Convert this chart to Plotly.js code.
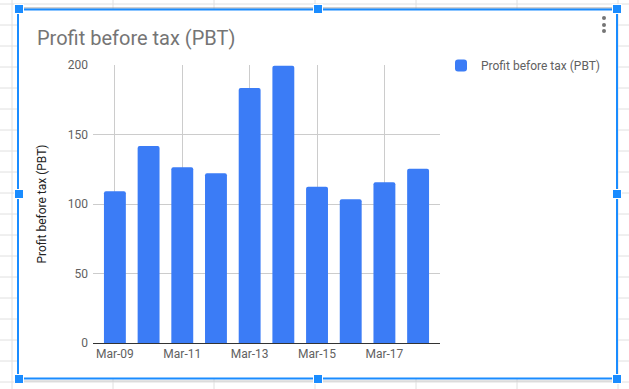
<!DOCTYPE html>
<html>
<head>
<meta charset="utf-8">
<script src="https://cdn.plot.ly/plotly-3.0.1.min.js"></script>
<style>html,body{margin:0;padding:0;background:#fff;}#chart{width:629px;height:389px;}</style>
</head>
<body>
<div id="chart"></div>
<script>
// ---- data ----
var categories = ["Mar-09","Mar-10","Mar-11","Mar-12","Mar-13","Mar-14","Mar-15","Mar-16","Mar-17","Mar-18"];
var pbtValues = [109.2, 141.7, 126.5, 122.2, 183.4, 199.5, 112.4, 103.5, 115.7, 125.3];
var tickLabels = ["Mar-09","Mar-11","Mar-13","Mar-15","Mar-17"];
var seriesName = "Profit before tax (PBT)";
var chartTitle = "Profit before tax (PBT)";
var yTicks = [0, 50, 100, 150, 200];

// ---- pixel helpers for decorations (plot area 93..440 x 65..343) ----
var L = 93, R = 440, T = 65, B = 343;
function px(x){ return (x - L) / (R - L); }
function py(y){ return (B - y) / (B - T); }

var shapes = [];
var gridCol = "#e0e0e0";
// spreadsheet grid
var colX = [12, 113, 214, 315, 416, 517, 618];
colX.forEach(function(x){
  shapes.push({type:"line", xref:"paper", yref:"paper", x0:px(x), x1:px(x), y0:py(0), y1:py(389), line:{color:gridCol, width:1}, layer:"below"});
});
for (var r = 4; r < 389; r += 21) {
  shapes.push({type:"line", xref:"paper", yref:"paper", x0:px(0), x1:px(629), y0:py(r), y1:py(r), line:{color:gridCol, width:1}, layer:"below"});
}
// chart card (white) with border
shapes.push({type:"rect", xref:"paper", yref:"paper", x0:px(18), x1:px(617), y0:py(9), y1:py(379), fillcolor:"#ffffff", line:{width:0}, layer:"below"});
shapes.push({type:"line", xref:"paper", yref:"paper", x0:px(18), x1:px(617), y0:py(8), y1:py(8), line:{color:"#9e9e9e", width:1}, layer:"above"});
var blue = "#1a8cff";
shapes.push({type:"rect", xref:"paper", yref:"paper", x0:px(18), x1:px(617), y0:py(9.5), y1:py(378.5), fillcolor:"rgba(0,0,0,0)", line:{color:blue, width:2}, layer:"above"});
shapes.push({type:"line", xref:"paper", yref:"paper", x0:px(18), x1:px(617), y0:py(381), y1:py(381), line:{color:"#c8c8c8", width:1}, layer:"above"});
// handles
var handles = [[19,9],[318,9],[617,9],[19,194],[617,194],[19,379],[318,379],[617,379]];
handles.forEach(function(h){
  shapes.push({type:"rect", xref:"paper", yref:"paper", x0:px(h[0]-5), x1:px(h[0]+5), y0:py(h[1]-5), y1:py(h[1]+5), fillcolor:"#ffffff", line:{width:0}, layer:"above"});
  shapes.push({type:"rect", xref:"paper", yref:"paper", x0:px(h[0]-4), x1:px(h[0]+4), y0:py(h[1]-4), y1:py(h[1]+4), fillcolor:blue, line:{width:0}, layer:"above"});
});
// kebab menu dots
[18, 25, 31].forEach(function(y){
  shapes.push({type:"circle", xref:"paper", yref:"paper", x0:px(602), x1:px(606), y0:py(y-2), y1:py(y+2), fillcolor:"#757575", line:{width:0}, layer:"above"});
});

var trace = {
  type: "bar",
  x: categories,
  y: pbtValues,
  name: seriesName,
  marker: {color: "#3b7cf6", cornerradius: 2},
  showlegend: true,
  hoverinfo: "x+y"
};

var layout = {
  width: 629, height: 389,
  margin: {l: L, r: 629 - R, t: T, b: 389 - B, pad: 0},
  paper_bgcolor: "#ffffff",
  plot_bgcolor: "rgba(0,0,0,0)",
  font: {family: "Roboto, Arial, sans-serif", size: 12, color: "#616161"},
  title: {text: chartTitle, font: {family: "Roboto, Arial, sans-serif", size: 20, color: "#757575"},
          xref: "container", x: 37 / 629, xanchor: "left", yref: "container", y: 1 - 38 / 389, yanchor: "middle"},
  bargap: 0.35,
  xaxis: {
    type: "category",
    range: [-0.65, 9.65],
    tickmode: "array",
    tickvals: tickLabels,
    ticktext: tickLabels,
    showgrid: true, gridcolor: "#cccccc", gridwidth: 1,
    ticks: "", showline: false, zeroline: false,
    ticklabelstandoff: 2,
    tickfont: {size: 12, color: "#616161"}
  },
  yaxis: {
    range: [0, 200],
    tickvals: yTicks,
    showgrid: true, gridcolor: "#cccccc", gridwidth: 1,
    zeroline: true, zerolinecolor: "#333333", zerolinewidth: 1,
    ticks: "", showline: false,
    ticklabelstandoff: 4,
    tickfont: {size: 12, color: "#616161"},
    title: {text: seriesName, font: {size: 12, color: "#222222"}, standoff: 18}
  },
  legend: {x: px(441), xanchor: "left", y: py(51), yanchor: "top", bgcolor: "rgba(0,0,0,0)",
           font: {size: 12, color: "#616161"}},
  shapes: shapes
};

Plotly.newPlot("chart", [trace], layout, {displayModeBar: false, staticPlot: true});
</script>
</body>
</html>
